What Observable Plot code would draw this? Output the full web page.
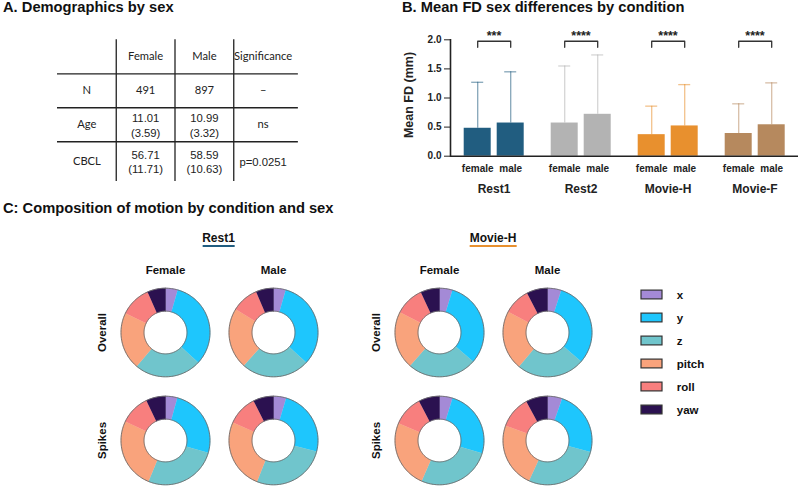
<!DOCTYPE html>
<html><head><meta charset="utf-8">
<script src="https://cdn.jsdelivr.net/npm/d3@7"></script>
<script src="https://cdn.jsdelivr.net/npm/@observablehq/plot@0.6"></script>
<style>
html,body{margin:0;padding:0;background:#fff;overflow:hidden;}
#page{position:relative;width:800px;height:487px;overflow:hidden;font-family:"Liberation Sans",Arial,sans-serif;color:#111;}
.abs{position:absolute;}
.title{font-weight:bold;font-size:14.7px;line-height:1;white-space:nowrap;color:#111;}
.hdr{font-weight:bold;font-size:12px;line-height:1;padding-bottom:1.5px;border-bottom:2px solid;white-space:nowrap;transform:translateX(-50%);color:#111;}
svg{max-width:none !important;overflow:visible;}
</style></head><body><div id="page"></div>
<script>
// ---------------- data ----------------
// Panel A table
const tableHeader = ["", "Female", "Male", "Significance"];
const tableRowLabels = ["N", "Age", "CBCL"];
const tableFemale = ["491", "11.01\n(3.59)", "56.71\n(11.71)"];
const tableMale = ["897", "10.99\n(3.32)", "58.59\n(10.63)"];
const tableSignificance = ["–", "ns", "p=0.0251"];

// Panel B bars
const conditions = ["Rest1", "Rest2", "Movie-H", "Movie-F"];
const conditionColors = ["#215d80", "#b3b3b3", "#e8902e", "#b6895e"];
const sexes = ["female", "male"];
const femaleMeanFD = [0.48, 0.57, 0.37, 0.39];
const maleMeanFD = [0.57, 0.72, 0.52, 0.54];
const femaleSD = [0.79, 0.98, 0.49, 0.51];
const maleSD = [0.88, 1.02, 0.71, 0.72];
const significanceStars = ["***", "****", "****", "****"];
const yTicks = [0, 0.5, 1.0, 1.5, 2.0];
const yAxisTitle = "Mean FD (mm)";

// Panel C donuts (percent of motion, order: x, y, z, pitch, roll, yaw)
const motions = ["x", "y", "z", "pitch", "roll", "yaw"];
const motionColors = ["#a48ad6", "#1ec6fd", "#70c5cc", "#f9a37c", "#f87f7e", "#2b1150"];
const panelSexes = ["Female", "Male"];
const measures = ["Overall", "Spikes"];
const rest1FemaleOverall = [4.4, 32.4, 24.3, 21.0, 11.2, 6.6];
const rest1MaleOverall = [4.4, 32.4, 24.7, 22.2, 9.8, 6.4];
const rest1FemaleSpikes = [4.3, 25.2, 26.8, 25.8, 10.9, 7.1];
const rest1MaleSpikes = [4.6, 24.4, 27.1, 25.6, 11.0, 7.4];
const movieHFemaleOverall = [4.7, 31.7, 25.1, 21.1, 10.5, 6.9];
const movieHMaleOverall = [5.0, 31.4, 24.7, 21.7, 9.7, 7.6];
const movieHFemaleSpikes = [4.7, 24.9, 26.9, 24.8, 11.0, 7.6];
const movieHMaleSpikes = [5.3, 23.9, 27.6, 23.6, 11.7, 7.9];

// ---------------- layout helpers ----------------
const FONT = "'Liberation Sans', Arial, sans-serif";
const page = document.getElementById("page");
function place(node, left, top) {
  const d = document.createElement("div");
  d.className = "abs"; d.style.left = left + "px"; d.style.top = top + "px";
  d.appendChild(node); page.appendChild(d); return d;
}
function label(text, cls, left, top, extra = {}) {
  const d = document.createElement("div");
  d.className = "abs " + cls; d.textContent = text;
  d.style.left = left + "px"; d.style.top = top + "px";
  Object.assign(d.style, extra);
  page.appendChild(d); return d;
}

// ---------------- Panel A: table ----------------
const tableRowEdges = [0, 1, 2, 3, 4.17];
const tableRows = [tableHeader, ...tableRowLabels.map((r, i) => [r, tableFemale[i], tableMale[i], tableSignificance[i]])];
const tableCells = tableRows.flatMap((row, r) => row.map((text, c) => ({
  col: c, y: (tableRowEdges[r] + tableRowEdges[r + 1]) / 2, text,
  numeric: text.includes("\n") || text.startsWith("p=")
})));
const tablePlot = Plot.plot({
  width: 310, height: 200, marginLeft: 57, marginRight: 18, marginTop: 39.3, marginBottom: 19,
  x: {domain: [0, 4], axis: null},
  y: {domain: [0, 4.17], reverse: true, axis: null},
  style: {background: "transparent", color: "#222"},
  marks: [
    Plot.ruleY([1, 2, 3].map(i => tableRowEdges[i]), {x1: 0, x2: 4.1, stroke: "#222", strokeWidth: 1.3}),
    Plot.ruleX([1, 2, 3], {y1: 0, y2: 4.17, stroke: "#222", strokeWidth: 1.3}),
    Plot.text(tableCells.filter(d => !d.numeric), {x: d => d.col + 0.5, y: "y", text: "text", fontSize: 11.2, fontFamily: "Lato, 'Open Sans', sans-serif", fill: "#222"}),
    Plot.text(tableCells.filter(d => d.numeric), {x: d => d.col + 0.5, y: "y", text: "text", fontSize: 11.3, lineHeight: 1.28, fontFamily: FONT, fill: "#222"})
  ]
});
place(tablePlot, 0, 0);

// ---------------- Panel B: bars ----------------
const barData = conditions.flatMap((c, i) => [
  {condition: c, sex: "female", mean: femaleMeanFD[i], sd: femaleSD[i]},
  {condition: c, sex: "male", mean: maleMeanFD[i], sd: maleSD[i]}
]);
const bracketData = conditions.flatMap(c => [
  {condition: c, sex: "female", y: 1.87}, {condition: c, sex: "female", y: 1.975},
  {condition: c, sex: "male", y: 1.975}, {condition: c, sex: "male", y: 1.87}
]);
const starData = conditions.map((c, i) => ({condition: c, text: significanceStars[i]}));
const barPlot = Plot.plot({
  width: 410, height: 200, marginLeft: 59.3, marginRight: 2, marginTop: 39.3, marginBottom: 44.3,
  style: {fontFamily: FONT, fontWeight: "bold", fontSize: "12.5px", color: "#222", background: "transparent"},
  fx: {domain: conditions, padding: 0},
  x: {domain: sexes, paddingInner: 0.19, paddingOuter: 0.4},
  y: {domain: [0, 2]},
  color: {domain: conditions, range: conditionColors},
  marks: [
    Plot.barY(barData, {fx: "condition", x: "sex", y: "mean", fill: "condition"}),
    Plot.ruleX(barData, {fx: "condition", x: "sex", y1: "mean", y2: d => d.mean + d.sd, stroke: "condition", strokeOpacity: 0.55, strokeWidth: 1.3}),
    Plot.tickY(barData, {fx: "condition", x: "sex", y: d => d.mean + d.sd, stroke: "condition", strokeOpacity: 0.55, strokeWidth: 1.3, inset: 7.5}),
    Plot.ruleY([0], {stroke: "#222", strokeWidth: 1.6}),
    Plot.frame({anchor: "left", facetAnchor: "left", stroke: "#222", strokeWidth: 1.6}),
    Plot.line(bracketData, {fx: "condition", x: "sex", y: "y", z: "condition", stroke: "#333", strokeWidth: 1.3}),
    Plot.text(starData, {fx: "condition", text: "text", frameAnchor: "top", dy: -9, fontSize: 12.5}),
    Plot.axisY({ticks: yTicks, tickFormat: d3.format(".1f"), tickSize: 6, tickPadding: 3, fontSize: 10, label: null}),
    Plot.text([yAxisTitle], {text: d => d, frameAnchor: "left", facetAnchor: "left", rotate: -90, textAnchor: "middle", lineAnchor: "top", dx: -46.5, dy: -3, fontSize: 12.5}),
    Plot.axisX({tickSize: 0, tickPadding: 8.6, fontSize: 10, label: null}),
    Plot.axisFx({anchor: "bottom", tickSize: 0, tickPadding: 28.6, fontSize: 12, label: null})
  ]
});
place(barPlot, 390, 0);

// ---------------- Panel C: donuts ----------------
const R_OUT = 1, R_IN = 0.483, PX_PER_UNIT = 44.5;
const XR = 54 / PX_PER_UNIT, YR = 54.25 / PX_PER_UNIT;
function slicePolygons(groups) {
  const rows = [];
  for (const g of groups) {
    const total = d3.sum(g.values);
    let acc = 0;
    motions.forEach((m, i) => {
      const a0 = acc / total * 2 * Math.PI; acc += g.values[i];
      const a1 = acc / total * 2 * Math.PI;
      const n = Math.max(2, Math.ceil((a1 - a0) / (Math.PI / 90)));
      const key = `${g.sex}-${g.measure}-${m}`;
      for (let k = 0; k <= n; k++) { const a = a0 + (a1 - a0) * k / n; rows.push({sex: g.sex, measure: g.measure, motion: m, key, x: R_OUT * Math.sin(a), y: R_OUT * Math.cos(a)}); }
      for (let k = n; k >= 0; k--) { const a = a0 + (a1 - a0) * k / n; rows.push({sex: g.sex, measure: g.measure, motion: m, key, x: R_IN * Math.sin(a), y: R_IN * Math.cos(a)}); }
    });
  }
  return rows;
}
function rings(groups) {
  const rows = [];
  for (const g of groups) for (const r of [R_OUT, R_IN]) {
    const key = `${g.sex}-${g.measure}-${r}`;
    for (let k = 0; k <= 180; k++) { const a = k / 180 * 2 * Math.PI; rows.push({sex: g.sex, measure: g.measure, key, x: r * Math.sin(a), y: r * Math.cos(a)}); }
  }
  return rows;
}
function donutPlot(groups, marginLeft) {
  return Plot.plot({
    width: marginLeft + 216 + 4, height: 272.25, marginLeft, marginRight: 4, marginTop: 55.25, marginBottom: 0,
    style: {fontFamily: FONT, fontWeight: "bold", color: "#111", background: "transparent"},
    fx: {domain: panelSexes, padding: 0},
    fy: {domain: measures, padding: 0},
    x: {domain: [-XR, XR], axis: null},
    y: {domain: [-YR, YR], axis: null},
    color: {domain: motions, range: motionColors},
    marks: [
      Plot.line(slicePolygons(groups), {fx: "sex", fy: "measure", x: "x", y: "y", z: "key", fill: "motion", stroke: "motion", strokeWidth: 0.5}),
      Plot.line(rings(groups), {fx: "sex", fy: "measure", x: "x", y: "y", z: "key", stroke: "#6a6a6a", strokeWidth: 0.9}),
      Plot.axisFx({anchor: "top", tickSize: 0, tickPadding: 5, fontSize: 11.5, label: null}),
      Plot.axisFy({anchor: "left", tickSize: 0, tickPadding: 5.3, tickRotate: -90, fontSize: 11.5, label: null})
    ]
  });
}
const rest1Groups = [
  {sex: "Female", measure: "Overall", values: rest1FemaleOverall},
  {sex: "Male", measure: "Overall", values: rest1MaleOverall},
  {sex: "Female", measure: "Spikes", values: rest1FemaleSpikes},
  {sex: "Male", measure: "Spikes", values: rest1MaleSpikes}
];
const movieHGroups = [
  {sex: "Female", measure: "Overall", values: movieHFemaleOverall},
  {sex: "Male", measure: "Overall", values: movieHMaleOverall},
  {sex: "Female", measure: "Spikes", values: movieHFemaleSpikes},
  {sex: "Male", measure: "Spikes", values: movieHMaleSpikes}
];
place(donutPlot(rest1Groups, 30.5), 80, 222);
place(donutPlot(movieHGroups, 30), 355, 222);

// Legend
const legendPlot = Plot.plot({
  width: 110, height: 160, marginLeft: 10.7, marginRight: 78.3, marginTop: 10.5, marginBottom: 7.5,
  x: {domain: ["swatch"], padding: 0, axis: null},
  y: {domain: motions, padding: 0, axis: null},
  color: {domain: motions, range: motionColors},
  style: {fontFamily: FONT, fontWeight: "bold", color: "#111", background: "transparent"},
  marks: [
    Plot.cell(motions, {x: () => "swatch", y: d => d, fill: d => d, stroke: "#333", strokeWidth: 1.2, insetTop: 7.1, insetBottom: 7.1}),
    Plot.text(motions, {x: () => "swatch", y: d => d, text: d => d, dx: 24.8, textAnchor: "start", fontSize: 11.5})
  ]
});
place(legendPlot, 630, 270);

// Titles and headers
label("A. Demographics by sex", "title", 3, 0);
label("B. Mean FD sex differences by condition", "title", 402, 0);
label("C: Composition of motion by condition and sex", "title", 3, 200.9);
label("Rest1", "hdr", 218.5, 231.5, {borderColor: "#215d80"});
label("Movie-H", "hdr", 493, 231.5, {borderColor: "#e8902e"});
</script></body></html>
